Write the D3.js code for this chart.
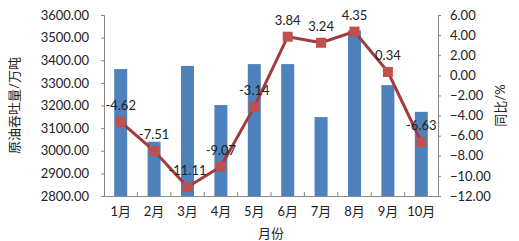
<!DOCTYPE html>
<html>
<head>
<meta charset="utf-8">
<script src="https://cdn.jsdelivr.net/npm/d3@7"></script>
<style>
	body { margin: 0; background: #fff; }
	text { font-family: Lato, "Noto Sans CJK SC", sans-serif; fill: #222; }
</style>
</head>
<body>
<svg id="chart" width="519" height="241"></svg>
<script>
const months = ['1月', '2月', '3月', '4月', '5月', '6月', '7月', '8月', '9月', '10月']
const throughput = [3361, 3040, 3375, 3202, 3383, 3383, 3149, 3532, 3290, 3172]
const yoy = [-4.62, -7.51, -11.11, -9.07, -3.14, 3.84, 3.24, 4.35, 0.34, -6.63]
const leftTicks = [2800, 2900, 3000, 3100, 3200, 3300, 3400, 3500, 3600]
const rightTicks = [-12, -10, -8, -6, -4, -2, 0, 2, 4, 6]

const margin = { top: 15, right: 81, bottom: 45, left: 104 }
const width = 519, height = 241
const innerW = width - margin.left - margin.right
const innerH = height - margin.top - margin.bottom

const svg = d3.select('#chart')
const g = svg.append('g').attr('transform', `translate(${margin.left},${margin.top})`)

const xBand = d3.scaleBand().domain(months).range([0, innerW])
const yL = d3.scaleLinear().domain([2800, 3600]).range([innerH, 0])
const yR = d3.scaleLinear().domain([-12, 6]).range([innerH, 0])
const cx = (i) => xBand(months[i]) + xBand.bandwidth() / 2

// bars
g.selectAll('.bar')
	.data(throughput)
	.enter().append('rect')
		.attr('class', 'bar')
		.attr('x', (d, i) => cx(i) - 6.5)
		.attr('width', 13)
		.attr('y', (d) => yL(d))
		.attr('height', (d) => innerH - yL(d))
		.attr('fill', '#4F81BD')

// axes
const axisColor = '#868686'
const left = g.append('g')
	.call(d3.axisLeft(yL).tickValues(leftTicks).tickFormat(d3.format('.2f')).tickSize(3).tickPadding(12))
const right = g.append('g')
	.attr('transform', `translate(${innerW},0)`)
	.call(d3.axisRight(yR).tickValues(rightTicks).tickFormat(d3.format('.2f')).tickSize(3).tickPadding(9))
const bottom = g.append('g')
	.attr('transform', `translate(0,${innerH})`)
	.call(d3.axisBottom(xBand).tickSize(0).tickPadding(11))

;[left, right, bottom].forEach((a) => {
	a.select('.domain').attr('stroke', axisColor)
	a.selectAll('.tick line').attr('stroke', axisColor)
	a.selectAll('text').attr('font-size', 13).attr('fill', '#222')
})

// category separators on x axis
g.selectAll('.sep')
	.data(months.slice(1))
	.enter().append('line')
		.attr('x1', (d) => xBand(d))
		.attr('x2', (d) => xBand(d))
		.attr('y1', innerH - 4)
		.attr('y2', innerH)
		.attr('stroke', axisColor)

// line
const line = d3.line()
	.x((d, i) => cx(i))
	.y((d) => yR(d))

g.append('path')
	.datum(yoy)
	.attr('d', line)
	.attr('fill', 'none')
	.attr('stroke', '#A23B3B')
	.attr('stroke-width', 3)

g.selectAll('.marker')
	.data(yoy)
	.enter().append('rect')
		.attr('x', (d, i) => cx(i) - 5)
		.attr('y', (d) => yR(d) - 5)
		.attr('width', 10)
		.attr('height', 10)
		.attr('fill', '#C0504D')

g.selectAll('.lbl')
	.data(yoy)
	.enter().append('text')
		.attr('x', (d, i) => cx(i))
		.attr('y', (d) => yR(d) - 12)
		.attr('text-anchor', 'middle')
		.attr('font-size', 13)
		.text((d) => d.toFixed(2))

// axis titles
svg.append('text')
	.attr('transform', `translate(19,${margin.top + innerH / 2}) rotate(-90)`)
	.attr('text-anchor', 'middle')
	.attr('font-size', 13)
	.attr('fill', '#444')
	.text('原油吞吐量/万吨')

svg.append('text')
	.attr('transform', `translate(505,${margin.top + innerH / 2}) rotate(-90)`)
	.attr('text-anchor', 'middle')
	.attr('font-size', 13)
	.attr('fill', '#444')
	.text('同比/%')

svg.append('text')
	.attr('x', margin.left + innerW / 2)
	.attr('y', 238)
	.attr('text-anchor', 'middle')
	.attr('font-size', 13)
	.attr('fill', '#444')
	.text('月份')
</script>
</body>
</html>
